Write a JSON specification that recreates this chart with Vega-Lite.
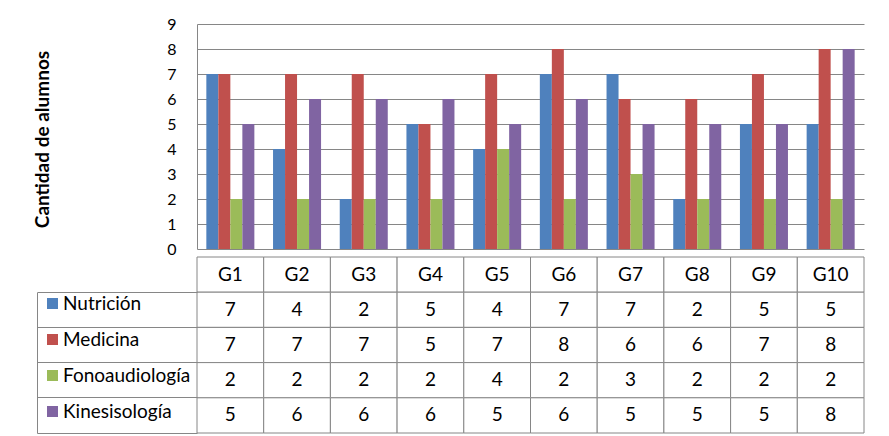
{
  "$schema": "https://vega.github.io/schema/vega-lite/v6.json",
  "background": "white",
  "padding": {"left": 33, "top": 16, "right": 0, "bottom": 0},
  "config": {
    "font": "Lato",
    "view": {"stroke": null},
    "axis": {"labelFont": "Lato", "titleFont": "Lato", "labelColor": "#000", "titleColor": "#000"},
    "legend": {"labelFont": "Lato"}
  },
  "datasets": {
    "valores": [
      {"grupo": "G1", "carrera": "Nutrición", "alumnos": 7},
      {"grupo": "G2", "carrera": "Nutrición", "alumnos": 4},
      {"grupo": "G3", "carrera": "Nutrición", "alumnos": 2},
      {"grupo": "G4", "carrera": "Nutrición", "alumnos": 5},
      {"grupo": "G5", "carrera": "Nutrición", "alumnos": 4},
      {"grupo": "G6", "carrera": "Nutrición", "alumnos": 7},
      {"grupo": "G7", "carrera": "Nutrición", "alumnos": 7},
      {"grupo": "G8", "carrera": "Nutrición", "alumnos": 2},
      {"grupo": "G9", "carrera": "Nutrición", "alumnos": 5},
      {"grupo": "G10", "carrera": "Nutrición", "alumnos": 5},
      {"grupo": "G1", "carrera": "Medicina", "alumnos": 7},
      {"grupo": "G2", "carrera": "Medicina", "alumnos": 7},
      {"grupo": "G3", "carrera": "Medicina", "alumnos": 7},
      {"grupo": "G4", "carrera": "Medicina", "alumnos": 5},
      {"grupo": "G5", "carrera": "Medicina", "alumnos": 7},
      {"grupo": "G6", "carrera": "Medicina", "alumnos": 8},
      {"grupo": "G7", "carrera": "Medicina", "alumnos": 6},
      {"grupo": "G8", "carrera": "Medicina", "alumnos": 6},
      {"grupo": "G9", "carrera": "Medicina", "alumnos": 7},
      {"grupo": "G10", "carrera": "Medicina", "alumnos": 8},
      {"grupo": "G1", "carrera": "Fonoaudiología", "alumnos": 2},
      {"grupo": "G2", "carrera": "Fonoaudiología", "alumnos": 2},
      {"grupo": "G3", "carrera": "Fonoaudiología", "alumnos": 2},
      {"grupo": "G4", "carrera": "Fonoaudiología", "alumnos": 2},
      {"grupo": "G5", "carrera": "Fonoaudiología", "alumnos": 4},
      {"grupo": "G6", "carrera": "Fonoaudiología", "alumnos": 2},
      {"grupo": "G7", "carrera": "Fonoaudiología", "alumnos": 3},
      {"grupo": "G8", "carrera": "Fonoaudiología", "alumnos": 2},
      {"grupo": "G9", "carrera": "Fonoaudiología", "alumnos": 2},
      {"grupo": "G10", "carrera": "Fonoaudiología", "alumnos": 2},
      {"grupo": "G1", "carrera": "Kinesisología", "alumnos": 5},
      {"grupo": "G2", "carrera": "Kinesisología", "alumnos": 6},
      {"grupo": "G3", "carrera": "Kinesisología", "alumnos": 6},
      {"grupo": "G4", "carrera": "Kinesisología", "alumnos": 6},
      {"grupo": "G5", "carrera": "Kinesisología", "alumnos": 5},
      {"grupo": "G6", "carrera": "Kinesisología", "alumnos": 6},
      {"grupo": "G7", "carrera": "Kinesisología", "alumnos": 5},
      {"grupo": "G8", "carrera": "Kinesisología", "alumnos": 5},
      {"grupo": "G9", "carrera": "Kinesisología", "alumnos": 5},
      {"grupo": "G10", "carrera": "Kinesisología", "alumnos": 8}
    ],
    "grupos": [
      {"grupo": "G1"}, {"grupo": "G2"}, {"grupo": "G3"}, {"grupo": "G4"}, {"grupo": "G5"},
      {"grupo": "G6"}, {"grupo": "G7"}, {"grupo": "G8"}, {"grupo": "G9"}, {"grupo": "G10"}
    ]
  },
  "spacing": -8,
  "resolve": {"scale": {"x": "independent", "y": "independent"}},
  "vconcat": [
    {
      "width": 667,
      "height": 225,
      "data": {"name": "valores"},
      "mark": {"type": "bar"},
      "encoding": {
        "x": {
          "field": "grupo", "type": "nominal", "sort": null,
          "scale": {"domain": ["G1","G2","G3","G4","G5","G6","G7","G8","G9","G10"], "paddingInner": 0.28, "paddingOuter": 0.14},
          "axis": null
        },
        "xOffset": {
          "field": "carrera", "type": "nominal",
          "scale": {"domain": ["Nutrición","Medicina","Fonoaudiología","Kinesisología"], "paddingInner": 0, "paddingOuter": 0}
        },
        "y": {
          "field": "alumnos", "type": "quantitative",
          "scale": {"domain": [0, 9], "nice": false},
          "axis": {
            "values": [0,1,2,3,4,5,6,7,8,9],
            "title": "Cantidad de alumnos",
            "titleFontSize": 19, "titleFontWeight": "bold",
            "titleAngle": -90, "titleX": -164, "titleY": 115, "titleBaseline": "top", "titleAlign": "center",
            "labelFontSize": 16, "labelPadding": 21, "ticks": false,
            "grid": true, "gridColor": "#868686", "gridWidth": 1,
            "domainColor": "#868686", "domainWidth": 1
          }
        },
        "color": {
          "field": "carrera", "type": "nominal",
          "scale": {"domain": ["Nutrición","Medicina","Fonoaudiología","Kinesisología"], "range": ["#4F81BD","#C0504D","#9BBB59","#8064A2"]},
          "legend": {
            "orient": "none", "legendX": -154, "legendY": 270,
            "title": null, "direction": "vertical",
            "symbolType": "square", "symbolSize": 121, "symbolStrokeWidth": 0, "symbolOpacity": 1,
            "labelFontSize": 19, "labelColor": "#000", "labelOffset": 1,
            "rowPadding": 16, "padding": 0
          }
        }
      }
    },
    {
      "width": 667,
      "height": 176,
      "layer": [
        {
          "data": {"name": "grupos"},
          "mark": {"type": "rect", "fill": "white", "stroke": "#868686", "strokeWidth": 1},
          "encoding": {
            "x": {"field": "grupo", "type": "nominal", "sort": null, "scale": {"domain": ["G1","G2","G3","G4","G5","G6","G7","G8","G9","G10"], "padding": 0}, "axis": null},
            "y": {
              "datum": "Grupo", "type": "nominal",
              "scale": {"domain": ["Grupo","Nutrición","Medicina","Fonoaudiología","Kinesisología"], "padding": 0},
              "axis": {
                "orient": "left", "offset": 160, "labels": false, "title": null, "grid": false,
                "ticks": true, "bandPosition": 1, "tickSize": -160, "tickColor": "#868686", "tickWidth": 1,
                "domain": true, "domainColor": "#868686", "domainWidth": 1,
                "domainDash": [0, 35.2, 140.8, 1000]
              }
            }
          }
        },
        {
          "data": {"name": "valores"},
          "mark": {"type": "rect", "fill": "white", "stroke": "#868686", "strokeWidth": 1},
          "encoding": {
            "x": {"field": "grupo", "type": "nominal", "sort": null},
            "y": {"field": "carrera", "type": "nominal"}
          }
        },
        {
          "data": {"name": "grupos"},
          "mark": {"type": "text", "fontSize": 19, "color": "#000", "align": "center", "baseline": "middle"},
          "encoding": {
            "x": {"field": "grupo", "type": "nominal", "sort": null},
            "y": {"datum": "Grupo", "type": "nominal"},
            "text": {"field": "grupo"}
          }
        },
        {
          "data": {"name": "valores"},
          "mark": {"type": "text", "fontSize": 19, "color": "#000", "align": "center", "baseline": "middle"},
          "encoding": {
            "x": {"field": "grupo", "type": "nominal", "sort": null},
            "y": {"field": "carrera", "type": "nominal"},
            "text": {"field": "alumnos", "type": "quantitative"}
          }
        }
      ]
    }
  ]
}
